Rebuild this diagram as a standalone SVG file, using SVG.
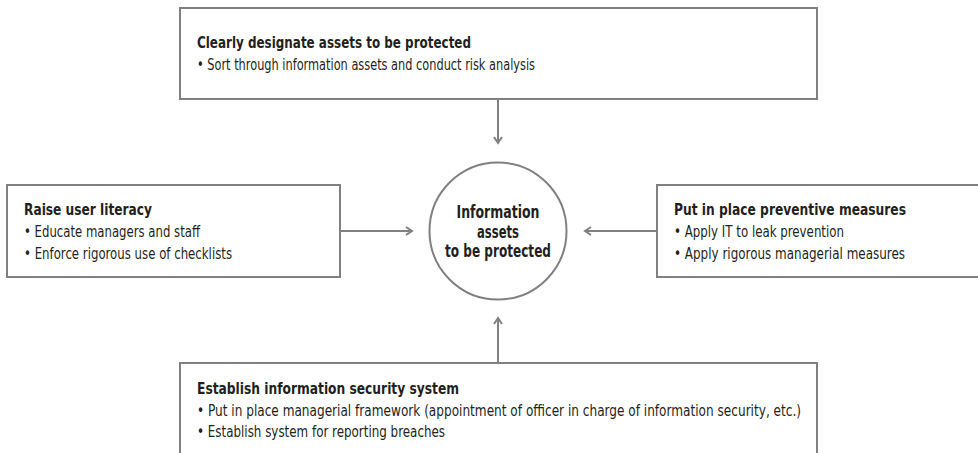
<svg xmlns="http://www.w3.org/2000/svg" width="978" height="453" viewBox="0 0 978 453">
  <style>
    .box { fill: #ffffff; stroke: #808080; stroke-width: 2; }
    .hub { fill: #ffffff; stroke: #808080; stroke-width: 2; }
    .title { font-family: "Liberation Sans Narrow", "DejaVu Sans Condensed", "Liberation Sans", sans-serif; font-stretch: condensed; font-weight: bold; font-size: 16.5px; fill: #231f20; }
    .item { font-family: "Liberation Sans Narrow", "DejaVu Sans Condensed", "Liberation Sans", sans-serif; font-stretch: condensed; font-size: 15.5px; fill: #231f20; }
    .hubtext { font-family: "Liberation Sans Narrow", "DejaVu Sans Condensed", "Liberation Sans", sans-serif; font-stretch: condensed; font-weight: bold; font-size: 17px; fill: #231f20; text-anchor: middle; }
    .conn { stroke: #808080; stroke-width: 2; fill: none; }
  </style>
  <defs>
    <marker id="arrow" viewBox="0 0 10 10" refX="8" refY="5" markerWidth="10" markerHeight="10" markerUnits="userSpaceOnUse" orient="auto">
      <path d="M2,1 L8,5 L2,9" fill="none" stroke="#808080" stroke-width="2"/>
    </marker>
  </defs>
  <rect width="978" height="453" fill="#ffffff"/>

  <g id="connectors">
    <line class="conn" x1="498" y1="99" x2="498" y2="143" marker-end="url(#arrow)"/>
    <line class="conn" x1="340" y1="231" x2="412" y2="231" marker-end="url(#arrow)"/>
    <line class="conn" x1="657" y1="231" x2="585" y2="231" marker-end="url(#arrow)"/>
    <line class="conn" x1="498" y1="363" x2="498" y2="318" marker-end="url(#arrow)"/>
  </g>

  <g id="top">
    <rect class="box" x="180" y="8" width="637" height="91"/>
    <text class="title" x="197" y="48" textLength="274" lengthAdjust="spacingAndGlyphs">Clearly designate assets to be protected</text>
    <text class="item" x="197" y="70" textLength="338" lengthAdjust="spacingAndGlyphs">• Sort through information assets and conduct risk analysis</text>
  </g>

  <g id="left">
    <rect class="box" x="7" y="185" width="333" height="92"/>
    <text class="title" x="24" y="215" textLength="128" lengthAdjust="spacingAndGlyphs">Raise user literacy</text>
    <text class="item" x="24" y="237" textLength="176" lengthAdjust="spacingAndGlyphs">• Educate managers and staff</text>
    <text class="item" x="24" y="259" textLength="208" lengthAdjust="spacingAndGlyphs">• Enforce rigorous use of checklists</text>
  </g>

  <g id="right">
    <rect class="box" x="657" y="185" width="340" height="92"/>
    <text class="title" x="674" y="215" textLength="232" lengthAdjust="spacingAndGlyphs">Put in place preventive measures</text>
    <text class="item" x="674" y="237" textLength="170" lengthAdjust="spacingAndGlyphs">• Apply IT to leak prevention</text>
    <text class="item" x="674" y="259" textLength="231" lengthAdjust="spacingAndGlyphs">• Apply rigorous managerial measures</text>
  </g>

  <g id="bottom">
    <rect class="box" x="180" y="363" width="637" height="100"/>
    <text class="title" x="197" y="394" textLength="262" lengthAdjust="spacingAndGlyphs">Establish information security system</text>
    <text class="item" x="197" y="416" textLength="604" lengthAdjust="spacingAndGlyphs">• Put in place managerial framework (appointment of officer in charge of information security, etc.)</text>
    <text class="item" x="197" y="437" textLength="248" lengthAdjust="spacingAndGlyphs">• Establish system for reporting breaches</text>
  </g>

  <g id="hub">
    <circle class="hub" cx="498" cy="231" r="68.5"/>
    <text class="hubtext" x="498" y="218" textLength="83" lengthAdjust="spacingAndGlyphs">Information</text>
    <text class="hubtext" x="498" y="238" textLength="42" lengthAdjust="spacingAndGlyphs">assets</text>
    <text class="hubtext" x="498" y="257" textLength="106" lengthAdjust="spacingAndGlyphs">to be protected</text>
  </g>
</svg>
